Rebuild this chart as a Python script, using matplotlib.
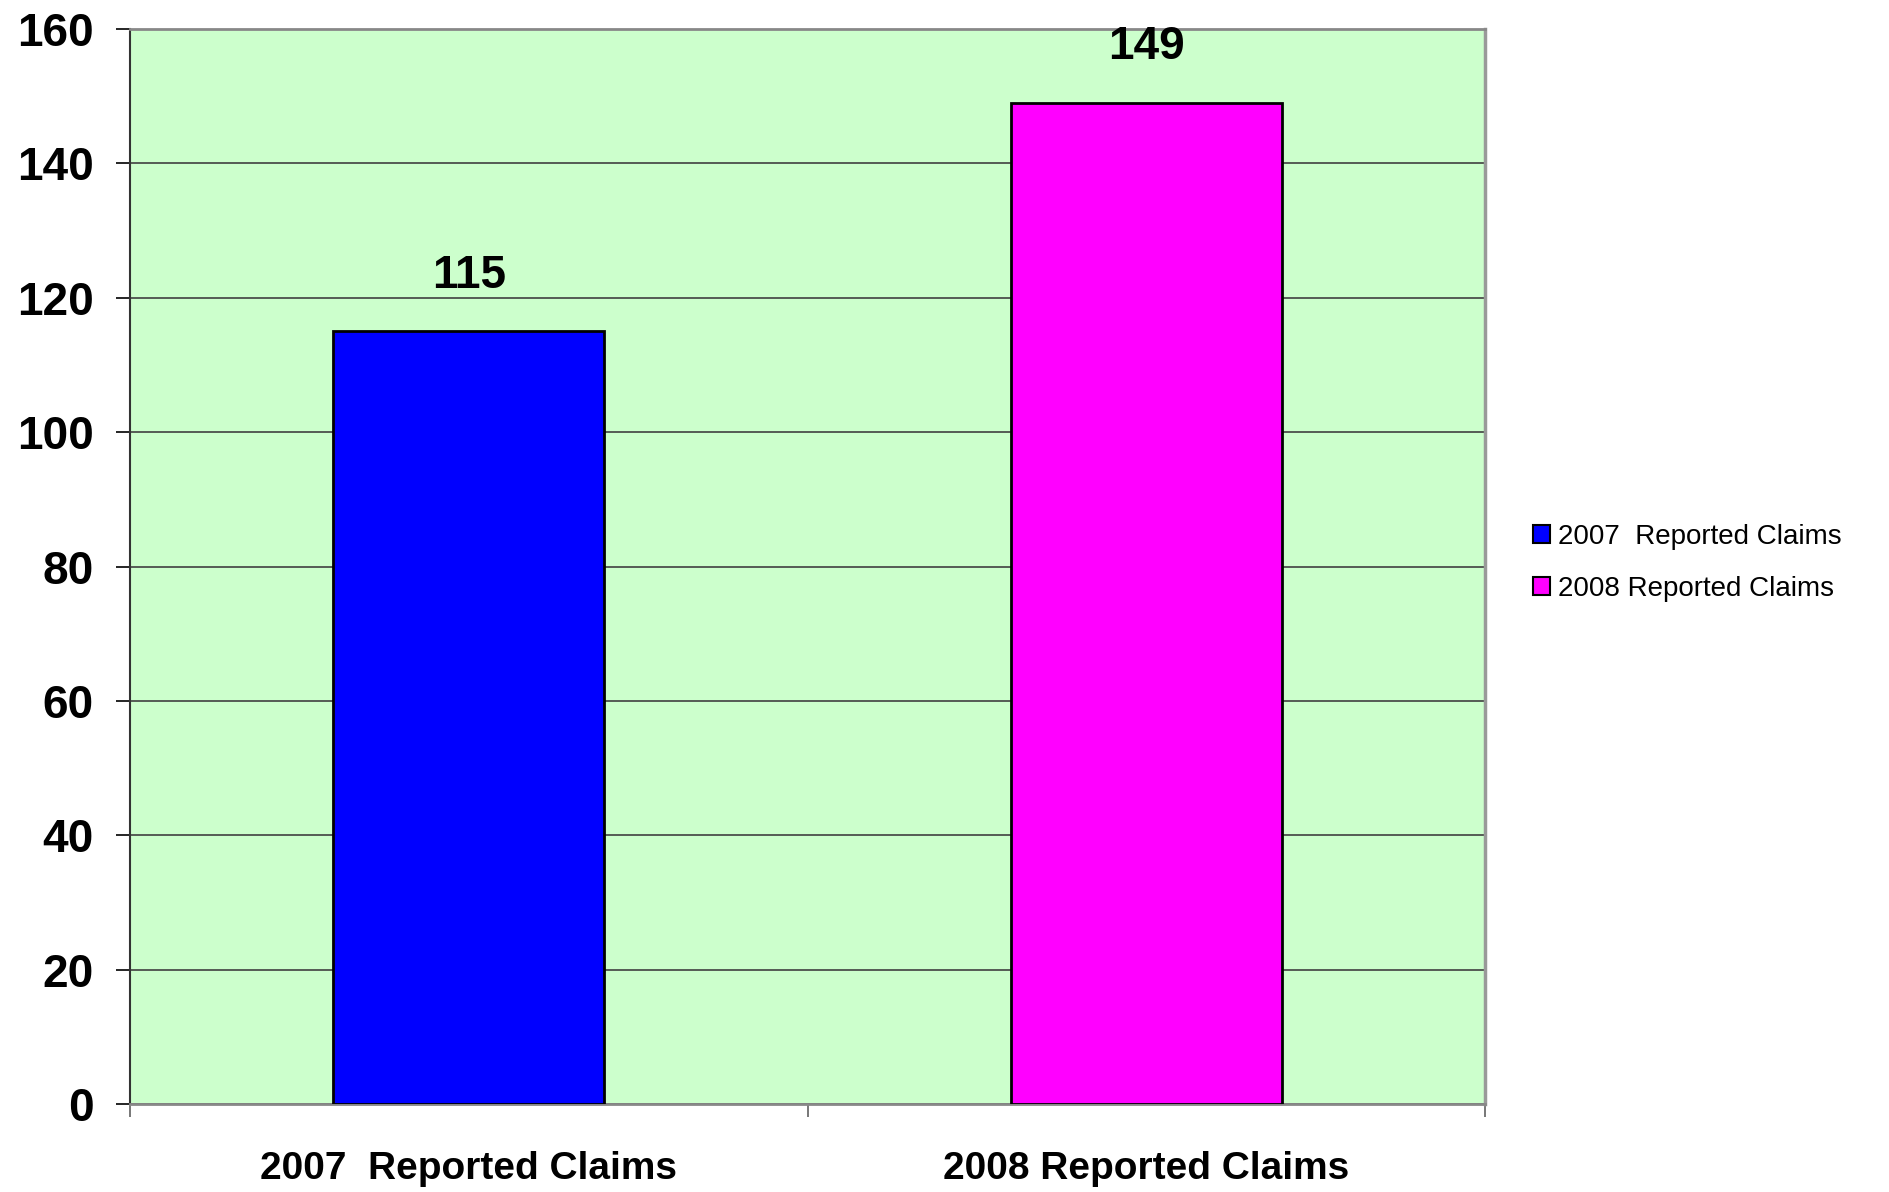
import numpy as np
import matplotlib
matplotlib.use("Agg")
import matplotlib.pyplot as plt
from matplotlib.patches import Patch

categories = ["2007  Reported Claims", "2008 Reported Claims"]
claims = [115, 149]
bar_colors = ["#0000FF", "#FF00FF"]
y_ticks = [0, 20, 40, 60, 80, 100, 120, 140, 160]

plt.rcParams['font.family'] = ['Liberation Sans', 'DejaVu Sans']

fig = plt.figure(figsize=(18.9, 11.92), dpi=100)
ax = fig.add_axes([130 / 1890, 1 - 1104 / 1192, 1355 / 1890, 1075 / 1192])
ax.set_facecolor("#CCFFCC")

x = np.arange(len(categories))
bars = ax.bar(x, claims, width=0.4, color=bar_colors, edgecolor="black", linewidth=2, zorder=3)

# value labels above each bar
for xi, v in zip(x, claims):
    ax.text(xi, v + 5, str(v), ha="center", va="bottom", fontsize=33, fontweight="bold")

ax.set_xlim(-0.5, len(categories) - 0.5)
ax.set_ylim(0, 160)
ax.set_yticks(y_ticks)
ax.grid(axis="y", color="#404040", linewidth=1.2, zorder=1)
ax.set_axisbelow(True)

ax.tick_params(axis="y", direction="out", length=10, width=1.2, pad=16, labelsize=33, colors="black")
for lbl in ax.get_yticklabels():
    lbl.set_fontweight("bold")

# category labels at centres, tick marks at the boundaries
ax.set_xticks(x)
ax.set_xticklabels(categories, fontsize=28, fontweight="bold")
ax.tick_params(axis="x", which="major", length=0, pad=34)
ax.set_xticks(np.arange(-0.5, len(categories), 1.0), minor=True)
ax.tick_params(axis="x", which="minor", direction="out", length=9, width=1.2, color="#606060")

ax.spines["left"].set_color("#333333")
ax.spines["left"].set_linewidth(1.5)
ax.spines["bottom"].set_color("#888888")
ax.spines["bottom"].set_linewidth(2)
ax.spines["top"].set_color("#888888")
ax.spines["top"].set_linewidth(2)
ax.spines["right"].set_color("#999999")
ax.spines["right"].set_linewidth(2.5)

handles = [Patch(facecolor=c, edgecolor="black", linewidth=1.5) for c in bar_colors]
fig.legend(handles, categories, loc="center left", bbox_to_anchor=(1508 / 1890, 1 - 563 / 1192),
           frameon=False, fontsize=20, handlelength=0.6, handleheight=0.6,
           handletextpad=0.3, labelspacing=0.93)

fig.savefig("out.png", dpi=100)
